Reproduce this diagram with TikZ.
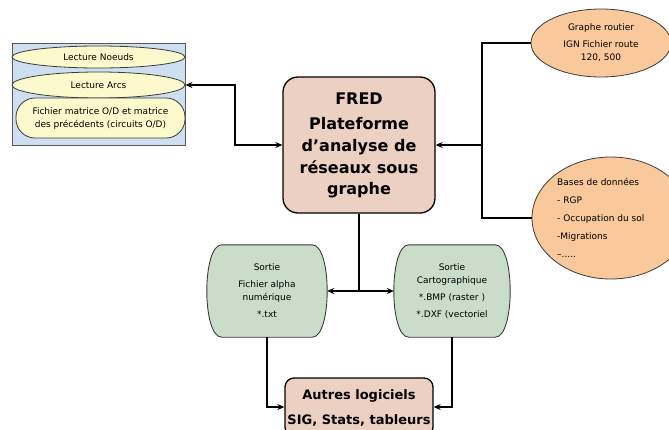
\documentclass[tikz,border=0pt]{standalone}
\usepackage{fontspec}
\setmainfont{DejaVu Sans}
\usetikzlibrary{shapes.geometric,arrows.meta}
\definecolor{bluebg}{RGB}{205,223,240}
\definecolor{yel}{RGB}{252,250,205}
\definecolor{org}{RGB}{249,200,155}
\definecolor{pinkbox}{RGB}{236,208,194}
\definecolor{grn}{RGB}{201,221,200}
\definecolor{edge}{RGB}{60,60,60}
\pgfdeclarelayer{bg}
\pgfsetlayers{bg,main}
\begin{document}
\begin{tikzpicture}[x=1pt,y=-1pt,
  >={Stealth[length=7pt,width=6pt]},
  small/.style={font=\fontsize{9}{13}\selectfont, align=center, inner sep=0},
  yell/.style={ellipse, draw=edge, line width=0.8pt, fill=yel, inner sep=0, small},
  orell/.style={ellipse, draw=edge, line width=0.8pt, fill=org, inner sep=0, small},
  mainbox/.style={draw=black, line width=1.3pt, fill=pinkbox, inner sep=0},
  bigtxt/.style={font=\bfseries\fontsize{16}{21.7}\selectfont, align=center, inner sep=0},
  midtxt/.style={font=\bfseries\fontsize{13}{25}\selectfont, align=center, inner sep=0},
  conn/.style={line width=1.6pt, black},
  gshape/.style={draw=edge, line width=0.9pt, fill=grn}
]
\useasboundingbox (0,0) rectangle (669,429);

% left panel
\node[draw=gray!70!black, line width=0.8pt, fill=bluebg, minimum width=173, minimum height=102, inner sep=0] (panel) at (98.5,94) {};
\node[yell, minimum width=173, minimum height=22] (ln) at (98.5,57) {Lecture Noeuds};
\node[yell, minimum width=173, minimum height=26] (la) at (98.5,85) {Lecture Arcs};
\node[draw=edge, line width=0.8pt, fill=yel, rounded corners=19, minimum width=169, minimum height=40, small, text depth=0] (lf) at (100.5,118) {Fichier matrice O/D et matrice\\des précédents (circuits O/D)};

% FRED
\node[mainbox, rounded corners=15, minimum width=152, minimum height=136] (fred) at (359,145) {};
\node[bigtxt] (fredt) at (359,99) {FRED};
\node[bigtxt] (fredd) at (359,158) {Plateforme\\d’analyse de\\réseaux sous\\graphe};

% right ellipses
\node[orell, minimum width=140, minimum height=68] (gr) at (601,43) {Graphe routier\\[4pt]IGN Fichier route\\120, 500};
\node[orell, minimum width=158, minimum height=122] (bd) at (611,218) {};
\node[font=\fontsize{9}{18}\selectfont, align=left, anchor=west, inner sep=0] (bdt) at (557,218) {Bases de données\\- RGP\\- Occupation du sol\\-Migrations\\--.....};

% green outputs
\node[small, minimum width=120, minimum height=92] (s1) at (267,291) {Sortie\\[4pt]Fichier alpha\\numérique\\[4pt]*.txt};
\node[small, minimum width=116, minimum height=92] (s2) at (452,291) {Sortie\\Cartographique\\[4pt]*.BMP (raster )\\[4pt]*.DXF (vectoriel};
\begin{pgfonlayer}{bg}
\foreach \n in {s1,s2}{
  \draw[gshape] ([xshift=15]\n.north west) -- ([xshift=-15]\n.north east)
    .. controls +(20,0) and +(20,0) .. ([xshift=-15]\n.south east)
    -- ([xshift=15]\n.south west)
    .. controls +(-20,0) and +(-20,0) .. ([xshift=15]\n.north west) -- cycle;
}
\end{pgfonlayer}

% bottom box
\node[mainbox, rounded corners=9, minimum width=148, minimum height=58] (aut) at (359,407) {};
\node[midtxt] (autt) at (359,408) {Autres logiciels\\SIG, Stats, tableurs};

% connectors
\coordinate (jl) at (235,145);
\coordinate (jr) at (482,145);
\coordinate (jb) at (359,291);
\draw[conn,<->] (fred.west) -- (jl) |- (la.east);
\draw[conn] (gr.west) -| (jr) |- (bd.west);
\draw[conn,->] (jr) -- (fred.east);
\draw[conn] (fred.south) -- (jb);
\draw[conn,->] (jb) -- (s1.east);
\draw[conn,->] (jb) -- (s2.west);
\draw[conn,->] (s1.south) |- (aut.west);
\draw[conn,->] (s2.south) |- (aut.east);
\end{tikzpicture}
\end{document}
